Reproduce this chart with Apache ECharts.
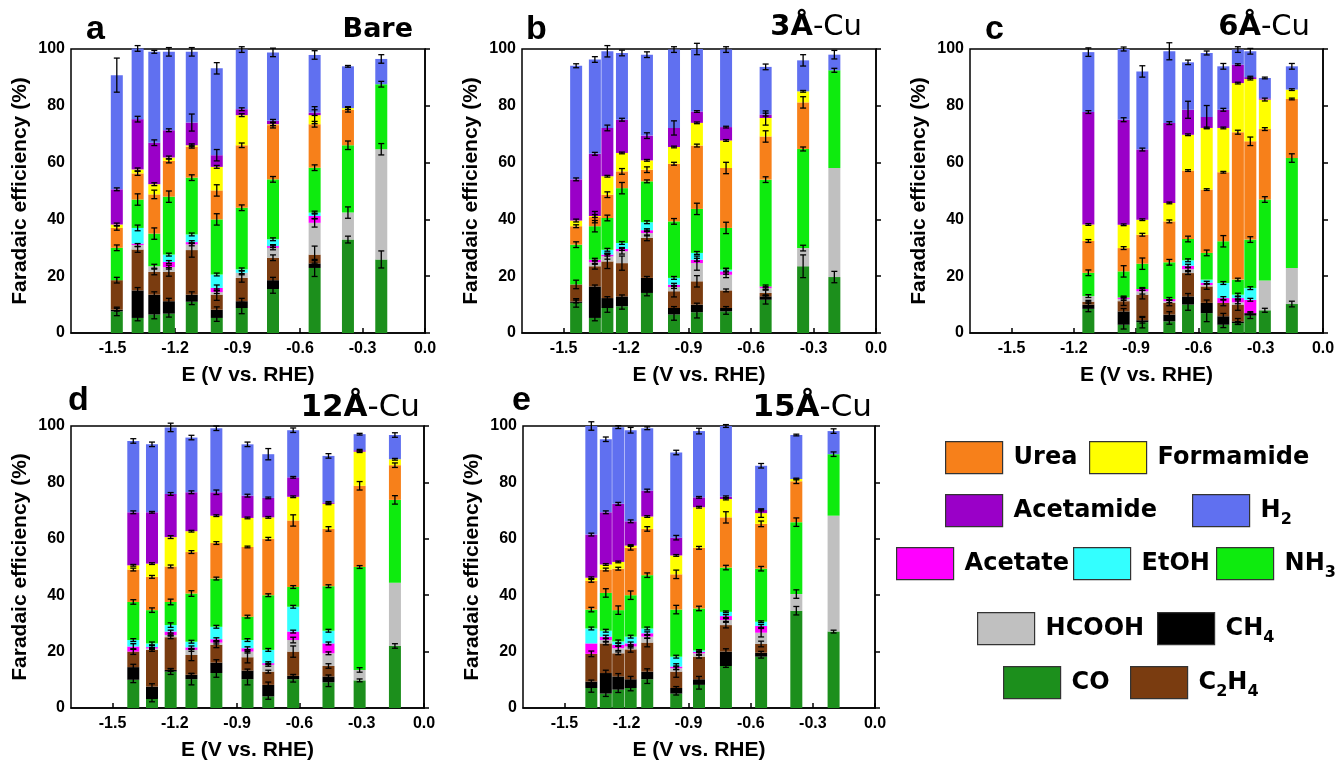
<!DOCTYPE html>
<html><head><meta charset="utf-8">
<script src="https://cdn.jsdelivr.net/npm/echarts@6/dist/echarts.min.js"></script>
<style>html,body{margin:0;padding:0;background:#fff}#c{width:1339px;height:763px}</style>
</head><body><div id="c"></div><script>
// ---------- shared ----------
const species = ['CO','CH4','C2H4','HCOOH','Acetate','EtOH','NH3','Urea','Formamide','Acetamide','H2'];
const speciesColors = ['#1C8F1C','#000000','#7A3C10','#C0C0C0','#FF00FF','#33FFFF','#0EEB0E','#F7801A','#FFFF00','#9A00C8','#6070F0'];
const xTickValues = [-1.5,-1.2,-0.9,-0.6,-0.3,0.0];
const yTickInterval = 20;

// ---------- panel a: Bare ----------
const E_a = [-1.48,-1.38,-1.30,-1.23,-1.12,-1.00,-0.88,-0.73,-0.53,-0.37,-0.21];
const FE_a = [
  [7.6,5.3,6.5,6.8,11,5.3,8.8,15.5,22.9,32.9,25.9],      // CO
  [0.6,9.7,7,4.4,2.5,2.9,2.4,3.1,1.6,0,0],               // CH4
  [10.4,14.4,8,10.3,15.7,5.3,8.2,7.9,3.1,0,0],           // C2H4
  [0,1.6,2,1.7,2,0.9,1.8,3.5,11.2,9.5,38.8],             // HCOOH
  [0,0.5,0,1.8,0.8,1.5,0,0.6,2.4,0,0],                   // Acetate
  [0,5.5,0,2.6,2.7,4.7,1.2,2.4,1.2,0,0],                 // EtOH
  [11.4,10,11.5,20.4,20,19.4,21.7,21.1,15.8,23.7,22.9],  // NH3
  [7,9.2,13.8,12.6,10.9,10.2,22,19.1,15.3,12.5,0],       // Urea
  [1.2,1.4,3.6,1.2,0.5,8.3,10.6,0.3,3.2,0.6,0],          // Formamide
  [12.4,17.7,14.6,9.6,8,4.1,2.1,1.2,0.9,0,0],            // Acetamide
  [40.2,24.9,32,27.6,24.9,30.6,21,24.1,20.3,14.7,8.9]    // H2
];
const ERR_a = [
  [1.5,1,1.5,1.2,1,1.2,2,1.5,3,1.2,3],
  [0.5,1,1,1,1,1,1,1,1,0,0],
  [1,1,1,1.5,2.5,2,1.5,1,3,0,0],
  [0,0.5,0.7,0.7,0.5,0.5,0.7,0.7,1.5,2,2],
  [0,0,0,0.5,0.5,1,0,0.5,1,0,0],
  [0,1,0,0.5,0.5,0.5,0.5,0.5,0.5,0,0],
  [1,2,2,2,1,2,1,1,1,1.5,1],
  [0.8,0.7,1.5,0.7,0.5,2,0.8,1,1,0.8,0],
  [0.5,0.5,0.5,0.5,0.5,0.5,0.5,0.5,3,0.5,0],
  [0.5,1,1,0.5,3,2,0.5,0.5,1,0,0],
  [6,1,0.5,1.5,1.5,2,1,1.5,1.5,0.3,1.5]
];

// ---------- panel b: 3Å-Cu ----------
const E_b = [-1.44,-1.35,-1.29,-1.22,-1.10,-0.97,-0.86,-0.72,-0.53,-0.35,-0.20];
const FE_b = [
  [10.6,5.3,8.8,9.4,14.1,6.5,7.3,7.6,11.7,23.5,19.7],
  [0.5,11.1,3.5,3.5,5.3,2.3,2.7,1.2,1.2,0,0],
  [6,7.1,12.9,11.7,14.1,5.9,8.2,6.2,1.2,0,0],
  [0,1.4,1.8,4.2,1.7,1.5,6.4,5.5,1.7,6.4,38.4],
  [0,0.9,0.6,0.8,1,0.8,1.2,1.2,0.6,0,0],
  [0,0,1.7,2.1,2.8,2.4,2.4,0.6,0,0,0],
  [14,11.8,11.2,19.3,14.4,19.9,15.5,14.7,37.6,34.9,34.4],
  [6.5,3.2,8.2,5.9,4.1,20.3,22.3,21.1,15.2,16.4,0],
  [2,0.4,6.5,6.5,3.3,5.9,8,9.7,6.5,3.9,0],
  [14.5,21.9,17,11.7,8.7,6.7,4,4.7,1.2,0,0],
  [40,33.2,27,23.5,28.5,27.6,22,27.3,16.8,10.9,5.5]
];
const ERR_b = [
  [1.5,1,1.5,1,1,2,2,1,1.5,4,2],
  [0.5,0.5,0.5,0.5,0.5,0.5,0.5,0.5,0.5,0,0],
  [1.5,1,2.5,2.5,1,2,2,0.5,1,0,0],
  [0,0.7,1,1,1,0.5,2.5,1,0.5,1,0],
  [0,0.5,0.5,0.5,0.5,0.5,0.5,1,0.5,0,0],
  [0,0,0.5,0.5,0.5,0.5,0.5,0.5,0,0,0],
  [1,2,1,2,0.5,1,2,2,1,0.7,0.7],
  [0.5,2,1,1,1,0.5,0.5,2,2,2,0],
  [0.5,0.5,0.3,0.3,0.3,0.3,0.3,0.3,2.5,0.3,0],
  [0.5,0.5,1,0.5,1,2.5,0.3,0.3,0.5,0,0],
  [0.7,1,2,1,1,1,2,1,1,2,1.5]
];

// ---------- panel c: 6Å-Cu ----------
const E_c = [-1.13,-0.96,-0.87,-0.74,-0.65,-0.56,-0.48,-0.41,-0.35,-0.28,-0.15];
const FE_c = [
  [8.5,2.9,3.8,4.1,10,7,2.9,3.5,6.1,8,10.2],
  [1.5,4.7,0.7,2.4,2.9,3.6,3,0.6,0.9,0,0],
  [1,3.6,9,4.1,8.2,5.8,4.7,5.9,0,0,0],
  [2,0.8,1.2,0.6,1.4,0.5,0,0.8,0,10.5,12.7],
  [0,0.5,0.8,0.8,1.2,0.8,1.7,1.5,4.7,0,0],
  [0,0,0,0,1.9,1.1,5.3,1.2,4.1,0,0],
  [8.2,9.2,8.9,12.9,7.5,9.4,14.7,5.3,17.1,28.5,38.7],
  [11.2,8.2,10.2,14.4,24.1,22.3,24.3,51.9,34.6,24.8,20.8],
  [5.8,8.2,5.3,6.5,12.6,21.7,15.6,17.3,21.9,10.4,3.3],
  [39.6,37,24.7,28.1,8.8,3.9,6.4,6.5,0.7,0.4,0],
  [21.1,24.9,27.5,25.3,16.7,22.5,15.3,5.3,9.1,7.2,8.2]
];
const ERR_c = [
  [1,1.5,2,1,2,3,1,0.5,1,0.7,1],
  [1,1,1,1,1,1,1,1,0.5,0,0],
  [0.5,1.5,1.5,1,0.5,1,1,2,0,0,0],
  [0.5,0.5,1,0.5,0.5,0,0,0.5,0,0,0],
  [0,0.5,0.5,0.5,0.5,0.5,0.5,0.5,0.5,0,0],
  [0,0,0,0,0.5,0,0.5,0.5,0.5,0,0],
  [1,2,2,1,1,1,2,0.5,1,1,1.5],
  [0.5,0.5,0.5,0.5,0.3,0.3,0.3,0.7,1.5,0.5,0.3],
  [0.3,0.3,0.3,0.3,0.3,0.3,0.3,0.3,0.3,0.5,0.3],
  [0.5,0.7,0.5,0.5,3,4,0.5,0.3,0.3,0,0],
  [1.5,0.7,2,3,0.8,0.7,1,1,1,0.3,1]
];

// ---------- panel d: 12Å-Cu ----------
const E_d = [-1.40,-1.31,-1.22,-1.12,-1.00,-0.85,-0.75,-0.63,-0.46,-0.31,-0.14];
const FE_d = [
  [10,3.2,12.9,10.2,12.4,10.2,4.1,10.2,9.1,9.8,22],
  [4.5,4.4,0.6,1.6,3.7,3.1,4.1,1.2,2.1,0,0],
  [5.5,13,11.6,7,6.3,4.7,4.7,8.6,3.7,0,0],
  [0,0.5,0.8,1.8,0.8,2,2.4,4.1,4.5,3.7,22.4],
  [1.8,0.5,1.2,0.9,1.2,1.2,0.6,3,3.5,0,0],
  [2.3,1.3,2.3,2,4.4,2.9,4.7,8.8,4.5,0,0],
  [13.5,11.8,8.2,17.1,17.1,8.3,19.4,7,15.8,36.5,29.4],
  [11.5,11.8,12.6,14.7,12.6,24.7,20,23.6,20.3,28.8,12.3],
  [1.5,4.7,10.4,7.4,9.7,10.3,7.6,8.4,8.9,12.1,2.1],
  [18.8,18.2,15.3,13.8,8.3,7.9,6.9,6.9,0.5,0.5,0],
  [25.3,24.1,23.6,19.4,22.7,18.2,15.5,16.7,16.5,5.7,8.6]
];
const ERR_d = [
  [1,1,1,2,1.5,2,1,1,1.5,0.5,0.8],
  [1,1,0.5,0.5,1,0.5,1,0.5,0.5,0,0],
  [1,0.5,0.5,2,1,2,0.5,2,0.8,0,0],
  [0,0.3,0.3,0.5,0.5,0.5,0.5,1,0.5,0.8,0],
  [1,0.5,0.5,0.5,0.5,0.5,0.5,0.5,0.5,0,0],
  [0.5,0.5,0.8,0.5,0.5,0.5,0.5,0.5,0.5,0,0],
  [0.8,0.8,1,1,0.5,0.5,0.5,0.5,0.5,0.5,1.5],
  [0.5,0.5,0.5,0.5,0.5,0.3,0.5,2,0.8,1.5,0.8],
  [0.3,0.3,0.5,0.3,0.3,0.3,0.3,0.3,0.3,0.3,0.3],
  [0.5,0.3,0.5,0.5,0.8,0.5,0.3,0.3,0.3,0.3,0],
  [0.8,0.8,1.5,0.8,0.8,0.8,2,0.8,0.8,0.3,0.8]
];

// ---------- panel e: 15Å-Cu ----------
const E_e = [-1.37,-1.30,-1.24,-1.18,-1.10,-0.96,-0.85,-0.72,-0.55,-0.38,-0.20];
const FE_e = [
  [7.1,5.1,6.5,7.1,10.2,5.1,8.2,14.9,18.2,34.5,27.1],
  [2.3,7.3,4.7,3.1,2.7,2,2,5.1,1.4,0,0],
  [9.8,10.5,8.2,10.6,10.3,5.8,8,9.4,3.1,0,0],
  [0,1.2,1.8,1,2.1,1.2,1.2,1.8,4,5.9,41.1],
  [3.7,1.2,1.2,1.1,1.2,0.6,0.5,1.4,2.4,0,0],
  [5.3,2.1,1.2,2.4,1.7,3.5,0.5,1.5,1.5,0,0],
  [6.7,13.4,11.1,14.7,18.9,16.7,14.9,15.7,18.8,25.5,21.8],
  [10.2,8.3,14.7,16.8,16.4,12.5,21.5,17.8,15.9,14.5,0],
  [1.1,1.8,2.4,0.8,4.4,6.7,14.4,6.5,3.8,0.8,0],
  [15.3,18.5,20.6,8.6,9.2,6.3,3.5,0.8,1.1,0,0],
  [38.5,25.9,27.2,32.3,22.1,30.2,23.5,25.1,15.7,15.6,8.2]
];
const ERR_e = [
  [1.5,1,1,1,1.5,0.5,1.5,0.5,0.5,1.5,0.5],
  [0.5,1,1,1,1,0.5,1,1,0.5,0,0],
  [1,0.5,0.5,1,1.5,2,0.5,1,1,0,0],
  [0,0.5,0.8,0.5,0.5,0.5,0.5,0.5,1.5,1.5,0],
  [0,0.5,0.5,0.5,0.5,1,0.3,0.5,0.5,0,0],
  [0.5,0.5,0.5,0.5,0.5,0.5,0.3,0.3,0.3,0,0],
  [0.8,1.5,1.5,1.5,0.8,1.5,0.8,0.8,0.8,1.5,0.8],
  [0.5,0.5,0.5,0.8,0.8,1.5,0.5,2,1,0.8,0],
  [0.3,0.3,0.3,0.3,0.3,0.3,0.3,0.3,1.5,0.3,0],
  [0.5,0.5,0.5,0.5,0.5,0.8,0.3,0.3,0.3,0,0],
  [1.5,0.8,0.5,1,0.5,0.8,1,0.5,0.8,0.3,0.8]
];

// ---------- layout ----------
const AX = 'Liberation Sans, Arial, sans-serif';
const KF = 'DejaVu Sans, Noto Sans, sans-serif';
const BAR_PX = 12;
const panels = [
  {E:E_a, FE:FE_a, ERR:ERR_a, grid:{left:71, top:49, width:354, height:284}},
  {E:E_b, FE:FE_b, ERR:ERR_b, grid:{left:522, top:49, width:354, height:284}},
  {E:E_c, FE:FE_c, ERR:ERR_c, grid:{left:970, top:49, width:353, height:284}},
  {E:E_d, FE:FE_d, ERR:ERR_d, grid:{left:71, top:426, width:353, height:282}},
  {E:E_e, FE:FE_e, ERR:ERR_e, grid:{left:523, top:426, width:352, height:282}}
];

const grids = [], xAxes = [], yAxes = [], series = [];
panels.forEach((p, k) => {
  grids.push(Object.assign({show:true, borderColor:'#000', borderWidth:1.5, backgroundColor:'transparent'}, p.grid));
  xAxes.push({
    gridIndex:k, type:'value', min:-1.7, max:0,
    axisLine:{show:true, onZero:false, lineStyle:{color:'#000', width:1.5}},
    axisTick:{show:true, inside:true, length:5, customValues:xTickValues, lineStyle:{color:'#000', width:1.5}},
    axisLabel:{customValues:xTickValues, formatter:v=>Number(v).toFixed(1), fontSize:16, fontWeight:'bold', color:'#000', fontFamily:AX, margin:8},
    splitLine:{show:false},
    name:'E (V vs. RHE)', nameLocation:'middle', nameGap:32,
    nameTextStyle:{fontSize:21, fontWeight:'bold', color:'#000', fontFamily:AX}
  });
  yAxes.push({
    gridIndex:k, type:'value', min:0, max:100, interval:yTickInterval,
    axisLine:{show:true, lineStyle:{color:'#000', width:1.5}},
    axisTick:{show:true, inside:true, length:5, lineStyle:{color:'#000', width:1.5}},
    axisLabel:{fontSize:16, fontWeight:'bold', color:'#000', fontFamily:AX, margin:6},
    splitLine:{show:false},
    name:'Faradaic efficiency (%)', nameLocation:'middle', nameGap:40,
    nameTextStyle:{fontSize:21, fontWeight:'bold', color:'#000', fontFamily:AX}
  });
  // cumulative stacking: each segment = [E, bottom, top]
  const cum = p.E.map(()=>0);
  const errData = [];
  species.forEach((sp, s) => {
    const segs = [];
    p.E.forEach((e,i)=>{
      const v = p.FE[s][i];
      const b = cum[i], t = b + v;
      cum[i] = t;
      if (v > 0) {
        segs.push([e, b, t]);
        if (p.ERR[s][i] > 0) errData.push([e, t, p.ERR[s][i]]);
      }
    });
    series.push({
      type:'custom', name:sp, xAxisIndex:k, yAxisIndex:k, z:2,
      itemStyle:{color:speciesColors[s]},
      encode:{x:0, y:[1,2]},
      data:segs,
      renderItem:(params, api)=>{
        const x = api.value(0);
        const p0 = api.coord([x, api.value(1)]), p1 = api.coord([x, api.value(2)]);
        return {type:'rect', shape:{x:p0[0]-BAR_PX/2, y:p1[1], width:BAR_PX, height:p0[1]-p1[1]},
          style:{fill:api.visual('color')}};
      }
    });
  });
  series.push({
    type:'custom', xAxisIndex:k, yAxisIndex:k, z:10, silent:true,
    encode:{x:0, y:1},
    data:errData,
    renderItem:(params, api)=>{
      const x = api.value(0), y = api.value(1), d = api.value(2);
      const hi = api.coord([x, y + d]), lo = api.coord([x, y - d]);
      const st = {stroke:'#000', lineWidth:1.3};
      const c = 3;
      return {type:'group', children:[
        {type:'line', shape:{x1:hi[0], y1:hi[1], x2:lo[0], y2:lo[1]}, style:st},
        {type:'line', shape:{x1:hi[0]-c, y1:hi[1], x2:hi[0]+c, y2:hi[1]}, style:st},
        {type:'line', shape:{x1:lo[0]-c, y1:lo[1], x2:lo[0]+c, y2:lo[1]}, style:st}
      ]};
    }
  });
});

// ---------- titles ----------
const letterStyle = {fontSize:34, fontWeight:'bold', color:'#000', fontFamily:AX};
const tagRich = (fs)=>({b:{fontSize:fs, fontWeight:'bold', color:'#000', fontFamily:KF}, n:{fontSize:fs, fontWeight:'normal', color:'#000', fontFamily:KF}});
const titles = [
  {text:'a', left:86, top:13, padding:0, textStyle:letterStyle},
  {text:'b', left:526, top:13, padding:0, textStyle:letterStyle},
  {text:'c', left:985, top:13, padding:0, textStyle:letterStyle},
  {text:'d', left:68, top:384, padding:0, textStyle:letterStyle},
  {text:'e', left:512, top:384, padding:0, textStyle:letterStyle},
  {text:'{b|Bare}', right:926, top:16, padding:0, textStyle:{rich:tagRich(27)}},
  {text:'{b|3Å}{n|-Cu}', right:477, top:13, padding:0, textStyle:{rich:tagRich(29)}},
  {text:'{b|6Å}{n|-Cu}', right:29, top:13, padding:0, textStyle:{rich:tagRich(29)}},
  {text:'{b|12Å}{n|-Cu}', right:919, top:392, padding:0, textStyle:{rich:tagRich(31)}},
  {text:'{b|15Å}{n|-Cu}', right:467, top:392, padding:0, textStyle:{rich:tagRich(31)}}
];

// ---------- legend ----------
const legendLabel = {CO:'{t|CO}', CH4:'{t|CH}{s|4}', C2H4:'{t|C}{s|2}{t|H}{s|4}', HCOOH:'{t|HCOOH}', Acetate:'{t|Acetate}',
  EtOH:'{t|EtOH}', NH3:'{t|NH}{s|3}', Urea:'{t|Urea}', Formamide:'{t|Formamide}', Acetamide:'{t|Acetamide}', H2:'{t|H}{s|2}'};
const legendPos = {Urea:[945,441], Formamide:[1089,441], Acetamide:[945,494], H2:[1192,494],
  Acetate:[896,547], EtOH:[1073,547], NH3:[1216,547], HCOOH:[977,612], CH4:[1157,612], CO:[1003,666], C2H4:[1130,666]};
const legends = Object.keys(legendPos).map(name=>({
  data:[name], left:legendPos[name][0], top:legendPos[name][1], padding:0,
  itemWidth:57, itemHeight:32, icon:'rect', selectedMode:false,
  itemStyle:{borderColor:'#333', borderWidth:1.2},
  formatter:n=>legendLabel[n],
  textStyle:{color:'#000', padding:[0,0,0,6], rich:{
    t:{fontSize:24, fontWeight:'bold', color:'#000', fontFamily:KF, lineHeight:34},
    s:{fontSize:16, fontWeight:'bold', color:'#000', fontFamily:KF, lineHeight:16, verticalAlign:'bottom'}
  }}
}));

const chart = echarts.init(document.getElementById('c'), null, {renderer:'canvas'});
chart.setOption({
  animation:false, backgroundColor:'#fff',
  title:titles, legend:legends,
  grid:grids, xAxis:xAxes, yAxis:yAxes, series:series
});
</script></body></html>
